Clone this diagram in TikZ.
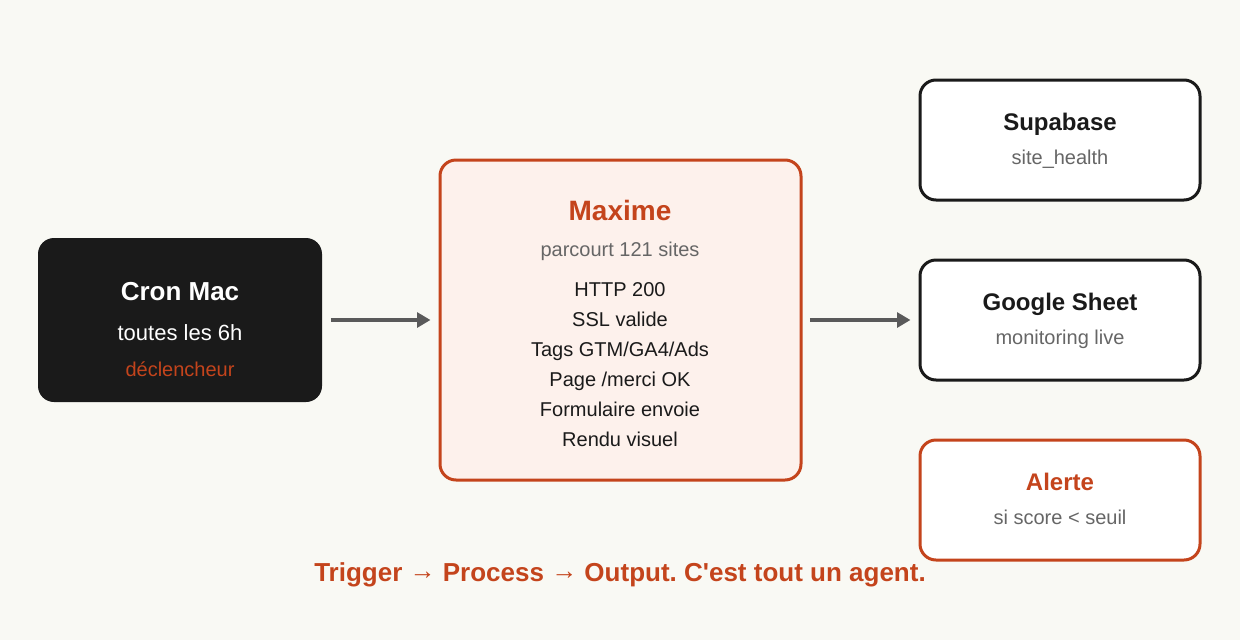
\documentclass[tikz,border=0pt]{standalone}
\usepackage{fontspec}
\setmainfont{Liberation Sans}[Ligatures=TeXOff]
\usetikzlibrary{arrows.meta}
\definecolor{bg}{HTML}{F9F9F4}
\definecolor{accent}{HTML}{C4441C}
\definecolor{ink}{HTML}{1A1A1A}
\definecolor{muted}{HTML}{666666}
\definecolor{arrowgray}{HTML}{5A5A5A}
\definecolor{peach}{HTML}{FDF1EC}
\tikzset{
  box/.style={rounded corners=12pt, line width=2.25pt, inner sep=0pt},
  darkbox/.style={box, fill=ink, draw=none, minimum width=213pt, minimum height=123pt},
  procbox/.style={box, fill=peach, draw=accent, minimum width=270.75pt, minimum height=240pt},
  outbox/.style={box, fill=white, draw=ink, minimum width=210pt, minimum height=90pt},
  alertbox/.style={box, fill=white, draw=accent, minimum width=210pt, minimum height=90pt},
  txt/.style={inner sep=0pt, anchor=base},
  flow/.style={draw=arrowgray, line width=2.6pt, -{Triangle[length=10pt,width=11pt]}},
}
\newcommand\capar{\raisebox{1pt}{→}}
\frenchspacing
\begin{document}
\begin{tikzpicture}[x=0.75pt,y=-0.75pt]
\fill[bg] (0,0) rectangle (1240,640);
\useasboundingbox (0,0) rectangle (1240,640);

\node[darkbox] (cron) at (180,320) {};
\node[procbox] (maxime) at (620.5,320) {};
\node[outbox] (supa) at (1060,140) {};
\node[outbox] (sheet) at (1060,320) {};
\node[alertbox] (alert) at (1060,500) {};

% Cron texts
\node[txt, text=white, font=\bfseries\fontsize{19.5}{22}\selectfont] (t1) at (180,300) {Cron Mac};
\node[txt, text=white, font=\fontsize{16.5}{19}\selectfont] (t2) at (180,340) {toutes les 6h};
\node[txt, text=accent, font=\fontsize{15}{18}\selectfont] (t3) at (180,376) {déclencheur};

% Maxime texts
\node[txt, text=accent, font=\bfseries\fontsize{21}{24}\selectfont] (m0) at (620,220) {Maxime};
\node[txt, text=muted, font=\fontsize{15}{18}\selectfont] (m1) at (620,256) {parcourt 121 sites};
\foreach \y/\t [count=\i] in {296/{HTTP 200}, 326/{SSL valide}, 356/{Tags GTM/GA4/Ads}, 386/{Page /merci OK}, 416/{Formulaire envoie}, 446/{Rendu visuel}}
  \node[txt, text=ink, font=\fontsize{15}{18}\selectfont] (l\i) at (620,\y) {\t};

% Output texts
\node[txt, text=ink, font=\bfseries\fontsize{18}{21}\selectfont] (s0) at (1060,130.5) {Supabase};
\node[txt, text=muted, font=\fontsize{15}{18}\selectfont] (s1) at (1060,164) {site\_health};
\node[txt, text=ink, font=\bfseries\fontsize{18}{21}\selectfont] (g0) at (1060,310.5) {Google Sheet};
\node[txt, text=muted, font=\fontsize{15}{18}\selectfont] (g1) at (1060,344) {monitoring live};
\node[txt, text=accent, font=\bfseries\fontsize{18}{21}\selectfont] (a0) at (1060,490.5) {Alerte};
\node[txt, text=muted, font=\fontsize{15}{18}\selectfont] (a1) at (1060,524) {si score < seuil};

% Arrows
\draw[flow, shorten <=5.5pt, shorten >=6pt] (cron.east) -- (maxime.west);
\draw[flow, shorten <=5.5pt, shorten >=6pt] (maxime.east) -- (sheet.west);

% Caption
\node[txt, text=accent, font=\bfseries\fontsize{19.5}{22}\selectfont] (cap) at (620,581) {Trigger \capar{} Process \capar{} Output. C'est tout un agent.};
\end{tikzpicture}
\end{document}
